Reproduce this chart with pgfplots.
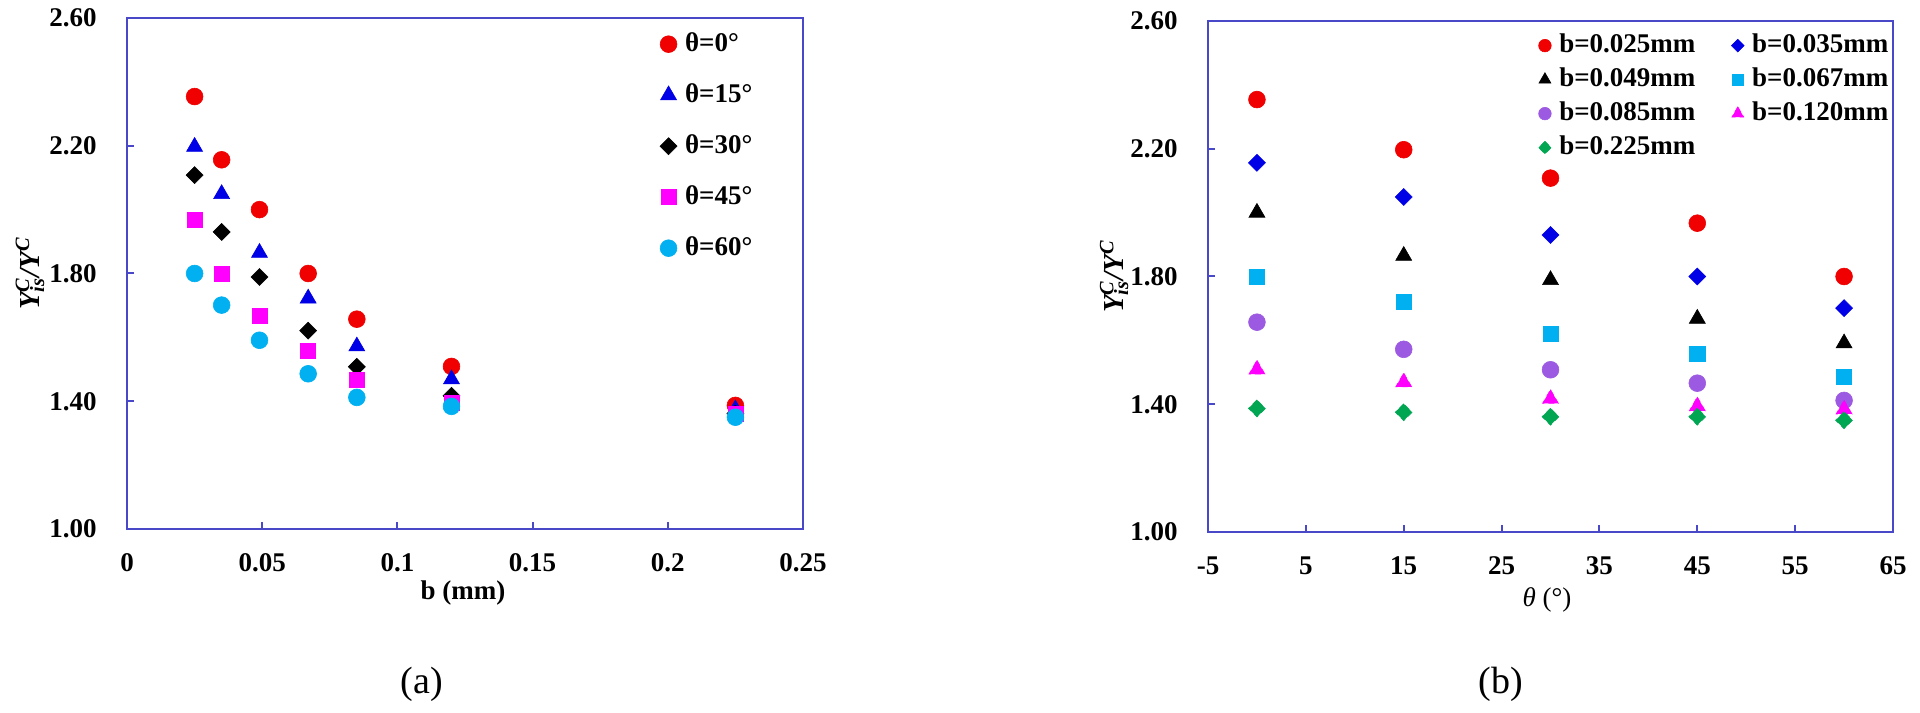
\documentclass[border=0pt]{standalone}
\usepackage{pgfplots}
\pgfplotsset{compat=1.18}
\usepackage{pgfplotstable}
\usepackage{fontspec}
\setmainfont{Liberation Serif}
\definecolor{axisblue}{RGB}{72,72,200}
\definecolor{mred}{RGB}{240,0,0}
\definecolor{mblue}{RGB}{0,0,230}
\definecolor{mmag}{RGB}{255,0,255}
\definecolor{mcyan}{RGB}{0,176,240}
\definecolor{mpurple}{RGB}{155,90,225}
\definecolor{mgreen}{RGB}{0,166,81}

% panel (a): rows = b (mm), columns = theta
\pgfplotstableread{
b     t0    t15   t30   t45   t60
0.025 2.354 2.197 2.108 1.967 1.800
0.035 2.156 2.049 1.930 1.800 1.701
0.049 2.000 1.865 1.789 1.668 1.591
0.067 1.800 1.722 1.621 1.559 1.486
0.085 1.657 1.572 1.508 1.466 1.412
0.120 1.509 1.469 1.417 1.394 1.384
0.225 1.387 1.375 1.361 1.361 1.350
}\tabA

% panel (b): rows = theta, columns = b
\pgfplotstableread{
theta b025  b035  b049  b067  b085  b120  b225
0     2.354 2.156 2.000 1.800 1.657 1.509 1.387
15    2.197 2.049 1.865 1.722 1.572 1.469 1.375
30    2.108 1.930 1.789 1.621 1.508 1.417 1.361
45    1.967 1.800 1.668 1.559 1.466 1.394 1.361
60    1.800 1.701 1.591 1.486 1.412 1.384 1.350
}\tabB

\newcommand{\tfont}{\bfseries\fontsize{13.5}{16}\selectfont}
\newcommand{\yfont}{\bfseries\fontsize{14.5}{17}\selectfont}

\pgfplotsset{
  common/.style={
    scale only axis, width=338pt, height=255.5pt,
    anchor=south west,
    axis line style={axisblue, line width=1pt},
    every tick/.style={axisblue, line width=1pt},
    major tick length=3.5pt,
    tick align=inside,
    xtick pos=bottom, ytick pos=left,
    ymin=1, ymax=2.6, ytick={1,1.4,1.8,2.2,2.6},
    /pgf/number format/assume math mode=true,
    tick label style={font=\tfont},
    yticklabel style={inner sep=0pt, anchor=east, xshift=-15pt,
      /pgf/number format/fixed, /pgf/number format/fixed zerofill, /pgf/number format/precision=2},
    xticklabel style={inner sep=0pt, anchor=north, yshift=-12pt},
    scaled x ticks=false, scaled y ticks=false,
    clip=false,
    legend cell align=left,
  },
  pt/.style={only marks, legend image code/.code={\draw[##1] plot coordinates {(0pt,0pt)};}},
  ptb/.style={only marks, legend image code/.code={\draw[##1, /tikz/every mark/.append style={scale=0.75}] plot coordinates {(0pt,0pt)};}},
  mcirc/.style={mark=*, mark size=4.2pt, mark options={draw=#1, fill=#1, line width=0.3pt}},
  mtri/.style={mark=triangle*, mark size=4.6pt, mark options={draw=#1, fill=#1, line width=0.3pt}},
  mdia/.style={mark=square*, mark size=3pt, mark options={rotate=45, draw=#1, fill=#1, line width=0.3pt}},
  msq/.style={mark=square*, mark size=3.8pt, mark options={draw=#1, fill=#1, line width=0.3pt}},
}

\begin{document}
\begin{tikzpicture}
\path[use as bounding box] (0,0) rectangle (960pt,356pt);

% ---------------- panel (a) ----------------
\begin{axis}[common,
  at={(63.5pt,91.5pt)},
  xmin=0, xmax=0.25, xtick={0,0.05,0.1,0.15,0.2,0.25},
  xticklabel style={/pgf/number format/fixed, /pgf/number format/precision=2},
  xlabel={\tfont b (mm)},
  xlabel style={at={(axis description cs:0.497,-0.125)}, anchor=center},
  ylabel={\yfont\itshape Y\rlap{\textsuperscript{C}}\textsubscript{is}/Y\textsuperscript{C}},
  ylabel style={at={(axis description cs:-0.1435,0.5)}, anchor=center},
  legend style={draw=none, fill=none, font=\tfont, anchor=north west,
    at={(0.788,0.975)}, row sep=12.5pt, inner sep=0pt,
    nodes={inner sep=0pt, text height=10pt, text depth=3pt},
    /tikz/column sep=4pt},
]
\addplot+[pt, mcirc=mred]   table[x=b, y=t0]  {\tabA};
\addlegendentry{θ=0°}
\addplot+[pt, mtri=mblue]   table[x=b, y=t15] {\tabA};
\addlegendentry{θ=15°}
\addplot+[pt, mdia=black]   table[x=b, y=t30] {\tabA};
\addlegendentry{θ=30°}
\addplot+[pt, msq=mmag]     table[x=b, y=t45] {\tabA};
\addlegendentry{θ=45°}
\addplot+[pt, mcirc=mcyan]  table[x=b, y=t60] {\tabA};
\addlegendentry{θ=60°}
\end{axis}

% ---------------- panel (b) ----------------
\begin{axis}[common,
  at={(604pt,90pt)}, width=342.5pt,
  xmin=-5, xmax=65, xtick={-5,5,...,65},
  xlabel={\fontsize{13.5}{16}\selectfont{\itshape θ} (°)},
  xlabel style={at={(axis description cs:0.495,-0.133)}, anchor=center},
  ylabel={\yfont\itshape Y\rlap{\textsuperscript{C}}\textsubscript{is}/Y\textsuperscript{C}},
  ylabel style={at={(axis description cs:-0.137,0.5)}, anchor=center},
  legend columns=2,
  legend style={draw=none, fill=none, font=\tfont, anchor=north west,
    at={(0.482,0.978)}, row sep=4pt, inner sep=0pt,
    nodes={inner sep=0pt, text height=10pt, text depth=3pt},
    /tikz/column sep=4pt,
    /tikz/every even column/.append style={column sep=18pt}},
]
\addplot+[ptb, mcirc=mred]    table[x=theta, y=b025] {\tabB};
\addlegendentry{b=0.025mm}
\addplot+[ptb, mdia=mblue]    table[x=theta, y=b035] {\tabB};
\addlegendentry{b=0.035mm}
\addplot+[ptb, mtri=black]    table[x=theta, y=b049] {\tabB};
\addlegendentry{b=0.049mm}
\addplot+[ptb, msq=mcyan]     table[x=theta, y=b067] {\tabB};
\addlegendentry{b=0.067mm}
\addplot+[ptb, mcirc=mpurple] table[x=theta, y=b085] {\tabB};
\addlegendentry{b=0.085mm}
\addplot+[ptb, mtri=mmag]     table[x=theta, y=b120] {\tabB};
\addlegendentry{b=0.120mm}
\addplot+[ptb, mdia=mgreen]   table[x=theta, y=b225] {\tabB};
\addlegendentry{b=0.225mm}
\end{axis}

\node[font=\fontsize{19}{22}\selectfont] at (211pt,14pt) {(a)};
\node[font=\fontsize{19}{22}\selectfont] at (750.5pt,14pt) {(b)};
\end{tikzpicture}
\end{document}
